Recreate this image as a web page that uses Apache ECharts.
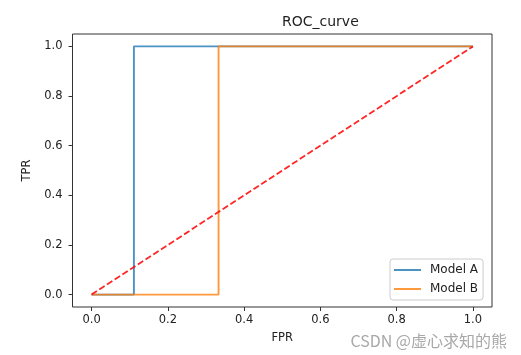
<!DOCTYPE html>
<html>
<head>
<meta charset="utf-8">
<script src="https://cdn.jsdelivr.net/npm/echarts@6/dist/echarts.min.js"></script>
<style>html,body{margin:0;padding:0;background:#fff}#c{width:521px;height:355px}</style>
</head>
<body>
<div id="c"></div>
<script>
var titleText = 'ROC_curve';
var xName = 'FPR';
var yName = 'TPR';
var watermark = 'CSDN @虚心求知的熊';
var seriesNames = ['Model A', 'Model B'];
var fprA = [0, 0.111, 0.111, 1];
var tprA = [0, 0, 1, 1];
var fprB = [0, 0.333, 0.333, 1];
var tprB = [0, 0, 1, 1];
var diagX = [0, 1];
var diagY = [0, 1];
var xTicks = [0, 0.2, 0.4, 0.6, 0.8, 1.0];
var yTicks = [0, 0.2, 0.4, 0.6, 0.8, 1.0];

function pairs(xs, ys) { return xs.map(function (x, i) { return [x, ys[i]]; }); }

var font = 'DejaVu Sans';
var chart = echarts.init(document.getElementById('c'), null, {renderer: 'canvas'});
chart.setOption({
  animation: false,
  grid: {left: 72.5, right: 29, top: 34, bottom: 48, show: true, borderColor: '#333', borderWidth: 1, backgroundColor: '#fff'},
  xAxis: {
    type: 'value', min: -0.05, max: 1.05,
    name: xName, nameLocation: 'middle', nameGap: 25,
    nameTextStyle: {fontFamily: font, fontSize: 11.5, color: '#222'},
    splitLine: {show: false},
    axisLine: {show: false, onZero: false},
    axisTick: {show: true, length: 4, customValues: xTicks, lineStyle: {color: '#333'}},
    axisLabel: {customValues: xTicks, margin: 7, fontFamily: font, fontSize: 11.5, color: '#222',
      formatter: function (v) { return v.toFixed(1); }}
  },
  yAxis: {
    type: 'value', min: -0.05, max: 1.05,
    name: yName, nameLocation: 'middle', nameGap: 38,
    nameTextStyle: {fontFamily: font, fontSize: 11.5, color: '#222'},
    splitLine: {show: false},
    axisLine: {show: false, onZero: false},
    axisTick: {show: true, length: 4, customValues: yTicks, lineStyle: {color: '#333'}},
    axisLabel: {customValues: yTicks, margin: 10, fontFamily: font, fontSize: 11.5, color: '#222',
      formatter: function (v) { return v.toFixed(1); }}
  },
  legend: {
    data: seriesNames,
    left: 390, top: 259,
    orient: 'vertical',
    icon: 'rect', itemWidth: 27, itemHeight: 2, itemGap: 7,
    padding: [5, 5, 5, 4],
    borderColor: '#ccc', borderWidth: 1, borderRadius: 3,
    backgroundColor: 'rgba(255,255,255,0.8)',
    textStyle: {fontFamily: font, fontSize: 12, color: '#222', padding: [0, 0, 0, 4]}
  },
  series: [
    {name: seriesNames[0], type: 'line', data: pairs(fprA, tprA), symbol: 'none',
      lineStyle: {color: '#1f77b4', width: 1.9, opacity: 0.8}, itemStyle: {color: 'rgba(31,119,180,0.8)'}, z: 2},
    {name: seriesNames[1], type: 'line', data: pairs(fprB, tprB), symbol: 'none',
      lineStyle: {color: '#ff7f0e', width: 1.9, opacity: 0.8}, itemStyle: {color: 'rgba(255,127,14,0.8)'}, z: 3},
    {name: 'diag', type: 'line', data: pairs(diagX, diagY), symbol: 'none',
      lineStyle: {color: '#ff0000', width: 1.8, type: [6.4, 2.8], opacity: 0.85}, z: 4}
  ],
  graphic: [
    {type: 'text', left: 282, top: 15, style: {text: titleText, font: '14px "DejaVu Sans"', fill: '#222', textAlign: 'center'}},
    {type: 'text', right: 14, bottom: 6, z: 100, style: {text: watermark, font: '16px "Noto Sans CJK SC"', fill: '#a8a8a8', stroke: '#fff', lineWidth: 0}}
  ]
});
</script>
</body>
</html>
